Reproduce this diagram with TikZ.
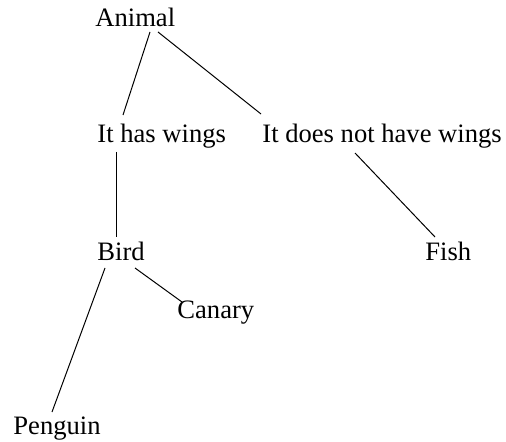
\documentclass[tikz,border=0pt]{standalone}
\usepackage{fontspec}
\setmainfont{Liberation Serif}
\usetikzlibrary{calc}

\begin{document}
\begin{tikzpicture}[
    x=0.5pt, y=-0.5pt,
    every node/.style={font=\fontsize{13.3}{16}\selectfont},
    word/.style ={inner sep=0pt, anchor=base west},
    edge/.style ={line width=0.5pt, black},
]
\useasboundingbox (0,0) rectangle (506,442);
\node[word] (animal)  at (95,27)   {Animal};
\node[word] (wings)   at (97,143)  {It has wings};
\node[word] (nowings) at (262,143) {It does not have wings};
\node[word] (bird)    at (97,260)  {Bird};
\node[word] (fish)    at (425,260) {Fish};
\node[word] (canary)  at (177,318) {Canary};
\node[word] (penguin) at (13,434)  {Penguin};
\draw[edge] ([shift={(55,5)}]animal.base west)  -- ([shift={(26,-28)}]wings.base west);
\draw[edge] ([shift={(63,5)}]animal.base west)  -- ([shift={(-1,-29)}]nowings.base west);
\draw[edge] ([shift={(19,9)}]wings.base west)   -- ([shift={(19,-23)}]bird.base west);
\draw[edge] ([shift={(93,10)}]nowings.base west) -- ([shift={(10,-23)}]fish.base west);
\draw[edge] ([shift={(38,8)}]bird.base west)    -- ([shift={(5,-16)}]canary.base west);
\draw[edge] ([shift={(8,8)}]bird.base west)     -- ([shift={(39,-22)}]penguin.base west);
\end{tikzpicture}
\end{document}
